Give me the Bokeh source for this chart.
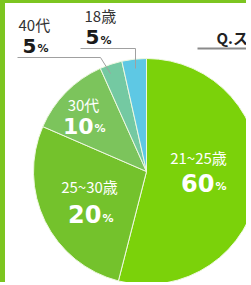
from bokeh.plotting import figure
from bokeh.models import Range1d, ColumnDataSource
from bokeh.core.properties import value
from bokeh.embed import file_html
from bokeh.resources import INLINE
import math

# ---- data ----
categories = ["21~25歳", "25~30歳", "30代", "40代", "18歳"]
pct_labels = [60, 20, 10, 5, 5]
# slice sizes as drawn in the picture (percent of the circle)
drawn_share = [54.0, 27.5, 11.8, 3.2, 3.5]
colors = ["#7bd20a", "#74c22c", "#7cc45c", "#74c9a2", "#5ec8e4"]
question = "Q.ス"

W, H = 251, 285
BL, BT = 5, 3          # green frame thickness (left, top)
CX, CY, R = 146, 171, 113
CJK = "Noto Sans CJK JP"
NUM = "DejaVu Sans"


def Y(py):
    return H - py


p = figure(width=W - BL, height=H - BT, output_backend="svg", toolbar_location=None,
           x_range=Range1d(BL, W), y_range=Range1d(0, H - BT), min_border=0)
p.axis.visible = False
p.grid.visible = False
p.outline_line_color = None
p.background_fill_color = "white"
p.border_fill_color = "white"
p.styles = {"position": "absolute", "left": "0px", "top": "0px",
            "border-left": f"{BL}px solid #7cc520", "border-top": f"{BT}px solid #7cc520"}

# pie
starts, ends = [], []
acc = 0.0
for s in drawn_share:
    b0 = acc * 3.6
    acc += s
    b1 = acc * 3.6
    starts.append(math.radians(90 - b0))
    ends.append(math.radians(90 - b1))
src = ColumnDataSource(dict(start=starts, end=ends, color=colors))
p.wedge(x=CX, y=Y(CY), radius=R, start_angle="start", end_angle="end",
        direction="clock", fill_color="color", line_color="#eef8e0",
        line_width=1, source=src)

# leader lines
p.line(x=[17, 100, 110], y=[Y(57), Y(57), Y(73)], line_color="#a0a0a0", line_width=1)
p.line(x=[80, 135, 135], y=[Y(48), Y(48), Y(68)], line_color="#a0a0a0", line_width=1)

# question tab
p.line(x=[197, W], y=[Y(48), Y(48)], line_color="#8a8a8a", line_width=2)
p.text(x=[216], y=[Y(37)], text=[question], text_font=value(CJK), text_font_size="15px",
       text_font_style="bold", text_color="#222222", text_baseline="middle")

# category labels
cat_x = [198, 89, 83, 18, 84]
cat_y = [157, 186, 104, 23.5, 15]
cat_align = ["center", "center", "center", "left", "left"]
cat_col = ["white", "white", "white", "#333333", "#333333"]
for i in range(5):
    p.text(x=[cat_x[i]], y=[Y(cat_y[i])], text=[categories[i]], text_font=value(CJK),
           text_font_size="15px", text_align=cat_align[i], text_baseline="middle",
           text_color=cat_col[i])

# percentage numbers
num_x = [214, 101, 93, 36, 99]
num_y = [182.5, 213.5, 125, 45, 36.5]
pc_y = [186, 217.5, 128, 48, 39.5]
num_size = ["24px", "24px", "22px", "20px", "20px"]
for i in range(5):
    col = cat_col[i] if i < 3 else "#1a1a1a"
    p.text(x=[num_x[i]], y=[Y(num_y[i])], text=[str(pct_labels[i])], text_font=value(NUM),
           text_font_size=num_size[i], text_font_style="bold", text_align="right",
           text_baseline="middle", text_color=col)
    p.text(x=[num_x[i] + 1], y=[Y(pc_y[i])], text=["%"], text_font=value(NUM),
           text_font_size="11px", text_font_style="bold", text_align="left",
           text_baseline="middle", text_color=col)

open("out.html", "w").write(file_html(p, INLINE))
